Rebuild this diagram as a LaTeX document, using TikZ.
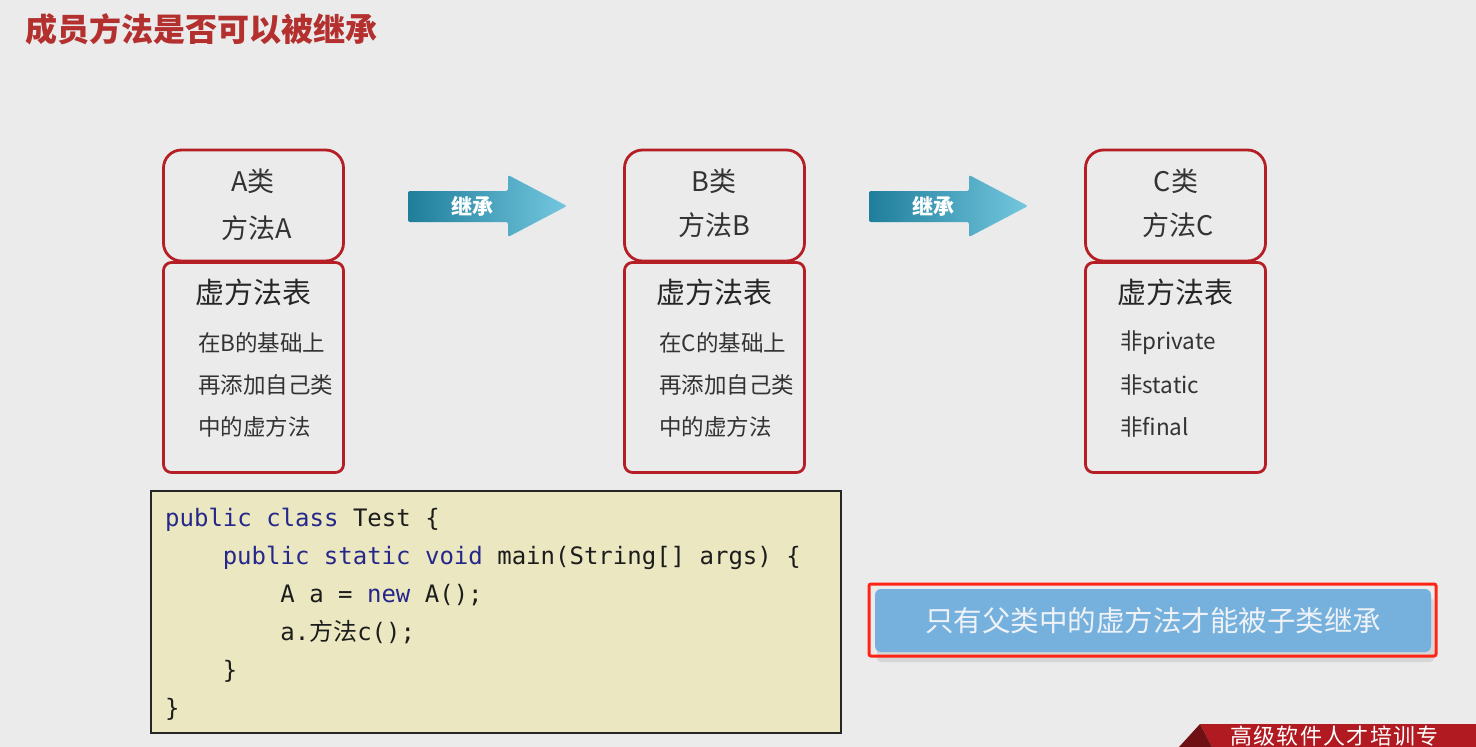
\documentclass[tikz,border=0pt]{standalone}
\usepackage{fontspec}
\setmainfont{Noto Sans CJK SC}
\setmonofont{DejaVu Sans Mono}
\newfontfamily\cjkfont{Noto Sans CJK SC}
\newfontfamily\bannerfont[LetterSpace=6]{Noto Sans CJK SC}
\definecolor{bg}{HTML}{EBEBEB}
\definecolor{titlered}{HTML}{B3302F}
\definecolor{boxred}{HTML}{B51E24}
\definecolor{txt}{HTML}{333333}
\definecolor{arrowdark}{HTML}{1F7E9B}
\definecolor{arrowlight}{HTML}{74C7DF}
\definecolor{codefill}{HTML}{EBE8C1}
\definecolor{kwblue}{HTML}{26278A}
\definecolor{codetxt}{HTML}{1C1C1C}
\definecolor{noteblue}{HTML}{76B1DD}
\definecolor{notetxt}{HTML}{EEF2F7}
\definecolor{framered}{HTML}{FF2415}
\definecolor{shadowgray}{HTML}{D6D6D6}
\definecolor{bannerred}{HTML}{B01A20}
\definecolor{bannerdark}{HTML}{6E1014}
\newcommand{\kw}[1]{\textcolor{kwblue}{#1}}
\tikzset{
  topbox/.style={draw=boxred, line width=2.8pt, rounded corners=18pt, minimum width=180pt, minimum height=111pt, inner sep=0pt},
  tabbox/.style={draw=boxred, line width=2.8pt, rounded corners=8pt, minimum width=180pt, minimum height=210pt, inner sep=0pt},
  cname/.style={text=txt, inner sep=0pt, font=\fontsize{27}{31}\selectfont},
  ttitle/.style={text=black!85, inner sep=0pt, font=\fontsize{29}{33}\selectfont},
  tline/.style={text=txt, inner sep=0pt, anchor=west, font=\fontsize{22.5}{26}\selectfont},
  inhlabel/.style={text=white, inner sep=0pt, font=\fontsize{21}{24}\selectfont\bfseries},
  codeline/.style={text=codetxt, inner sep=0pt, anchor=base west, font=\fontsize{24}{28}\ttfamily},
  inharrow/.style={left color=arrowdark, right color=arrowlight, rounded corners=2pt}
}
\begin{document}
\begin{tikzpicture}[x=1pt,y=-1pt]
\useasboundingbox (0,0) rectangle (1476,747);
\fill[bg] (0,0) rectangle (1476,747);
\begin{scope}
\clip (0,0) rectangle (1476,747);

% title
\node[text=titlered, inner sep=0pt, anchor=west, font=\fontsize{32}{36}\selectfont\bfseries] (title) at (25,29) {成员方法是否可以被继承};

% class A
\node[topbox] (Atop) at (253.5,205.5) {};
\node[tabbox] (Atab) at (253.5,367.5) {};
\node[cname] (Aname) at (253,181) {A类};
\node[cname] (Ameth) at (257,228) {方法A};
\node[ttitle] (Attl) at (253.5,292) {虚方法表};
\node[tline] (Al1) at (198,343) {在B的基础上};
\node[tline] (Al2) at (198,385) {再添加自己类};
\node[tline] (Al3) at (198,427) {中的虚方法};

% class B
\node[topbox] (Btop) at (714.5,205.5) {};
\node[tabbox] (Btab) at (714.5,367.5) {};
\node[cname] (Bname) at (714,181) {B类};
\node[cname] (Bmeth) at (714,225) {方法B};
\node[ttitle] (Bttl) at (714.5,292) {虚方法表};
\node[tline] (Bl1) at (659,343) {在C的基础上};
\node[tline] (Bl2) at (659,385) {再添加自己类};
\node[tline] (Bl3) at (659,427) {中的虚方法};

% class C
\node[topbox] (Ctop) at (1175.5,205.5) {};
\node[tabbox] (Ctab) at (1175.5,367.5) {};
\node[cname] (Cname) at (1176,181) {C类};
\node[cname] (Cmeth) at (1178,225) {方法C};
\node[ttitle] (Cttl) at (1175.5,292) {虚方法表};
\node[tline] (Cl1) at (1120,343) {非private};
\node[tline] (Cl2) at (1120,385) {非static};
\node[tline] (Cl3) at (1120,427) {非final};

% inheritance arrows
\shade[inharrow] (408,191) -- (508,191) -- (508,175) -- (567,206) -- (508,237) -- (508,222) -- (408,222) -- cycle;
\node[inhlabel] (inh1) at (472,206) {继承};
\shade[inharrow] (869,191) -- (969,191) -- (969,175) -- (1028,206) -- (969,237) -- (969,222) -- (869,222) -- cycle;
\node[inhlabel] (inh2) at (933,206) {继承};

% code box
\node[draw=black!85, line width=1.2pt, fill=codefill, minimum width=690pt, minimum height=242pt, inner sep=0pt] (code) at (496,612) {};
\node[codeline] (c1) at (165,526) {\kw{public} \kw{class} Test \{};
\node[codeline] (c2) at (222.6,564) {\kw{public} \kw{static} \kw{void} main(String[] args) \{};
\node[codeline] (c3) at (280.2,602) {A a = \kw{new} A();};
\node[codeline] (c4) at (280.2,640) {a.{\cjkfont 方法}c();};
\node[codeline] (c5) at (222.6,678) {\}};
\node[codeline] (c6) at (165,716) {\}};

% note box
\fill[shadowgray, rounded corners=4pt] (877,598) rectangle (1434,662);
\node[draw=framered, line width=3pt, rounded corners=2pt, minimum width=567pt, minimum height=72pt, inner sep=0pt] (frame) at (1152.5,620) {};
\node[fill=noteblue, rounded corners=6pt, minimum width=556pt, minimum height=63pt, inner sep=0pt, text=notetxt, font=\fontsize{28.5}{32}\selectfont] (note) at (1153,620.5) {只有父类中的虚方法才能被子类继承};

% banner
\fill[bannerred] (1200,724) -- (1476,724) -- (1476,747) -- (1212,747) -- cycle;
\fill[bannerdark] (1179,747) -- (1200,724) -- (1212,747) -- cycle;
\node[text=white, inner sep=0pt, anchor=west, font=\fontsize{22}{26}\bannerfont] (banner) at (1230,736) {高级软件人才培训专};
\end{scope}
\end{tikzpicture}
\end{document}
